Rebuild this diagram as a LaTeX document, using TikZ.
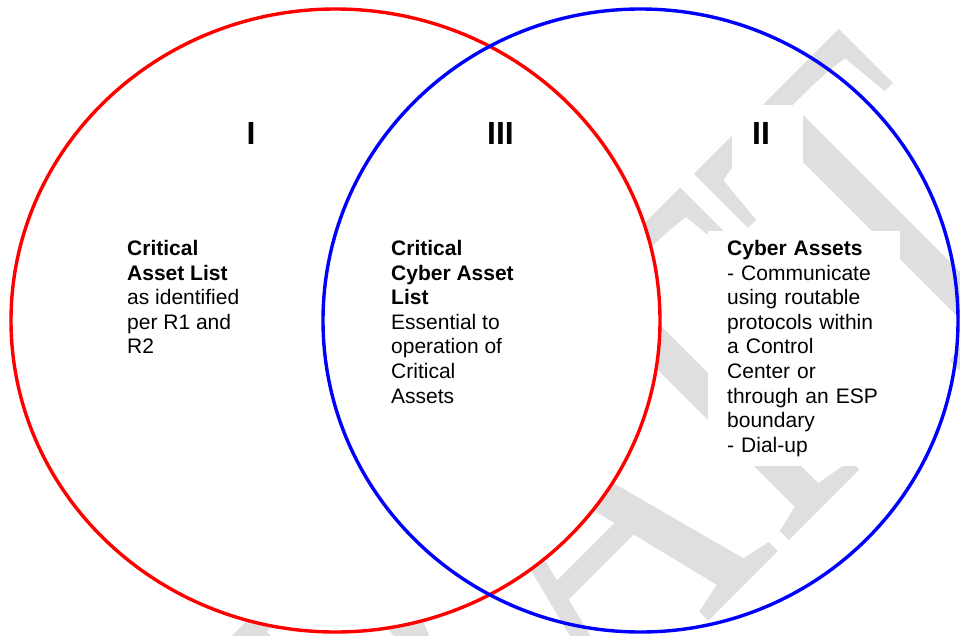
\documentclass[tikz,border=0pt]{standalone}
\usepackage{fontspec}
\setmainfont{Liberation Sans}
\newfontfamily\wmfont{Liberation Serif}
\definecolor{wmgray}{RGB}{223,223,223}
\definecolor{ringred}{RGB}{255,0,0}
\definecolor{ringblue}{RGB}{0,0,255}
\begin{document}
\begin{tikzpicture}[x=1pt,y=-1pt,
  ring/.style={line width=3.4pt},
  txtbox/.style={fill=white, anchor=north west, align=left,
    inner xsep=19pt, inner ysep=9pt,
    font=\fontsize{21}{24.6}\selectfont},
  numeral/.style={font=\fontsize{32}{32}\selectfont\bfseries, inner sep=0pt},
]
\useasboundingbox (0,0) rectangle (960,635);

% faint diagonal watermark behind everything
\begin{scope}
  \clip (0,0) rectangle (960,635);
  \node[anchor=base east, inner sep=0pt, rotate=45, yscale=1.4,
        text=wmgray, font=\wmfont\fontsize{356}{356}\selectfont]
        (wm) at (1074.4,255.6) {DRAFT};
\end{scope}

% the two sets
\draw[ring, ringred, fill=white] (335.5,320.5) ellipse [x radius=324.5, y radius=311.5];
\draw[ring, ringblue] (640.5,320.5) ellipse [x radius=317.5, y radius=311.5];

% region numerals
\node[numeral] (n1) at (251,133.5) {I};
\node[numeral] (n3) at (500.5,133.5) {III};
\node[numeral, fill=white, anchor=north west, align=left, text width=31pt,
      inner xsep=20pt, inner ysep=17pt, text depth=15pt] (n2) at (732,105) {II};

% region descriptions
\node[txtbox] (t1) at (108,231)
  {\textbf{Critical}\\\textbf{Asset List}\\as identified\\per R1 and\\R2};
\node[txtbox] (t3) at (372,231)
  {\textbf{Critical}\\\textbf{Cyber Asset}\\\textbf{List}\\Essential to\\operation of\\Critical\\Assets};
\node[txtbox, text width=154pt] (t2) at (708,231)
  {\textbf{Cyber Assets}\\- Communicate\\using routable\\protocols within\\a Control\\Center or\\through an ESP\\boundary\\- Dial-up};
\end{tikzpicture}
\end{document}
